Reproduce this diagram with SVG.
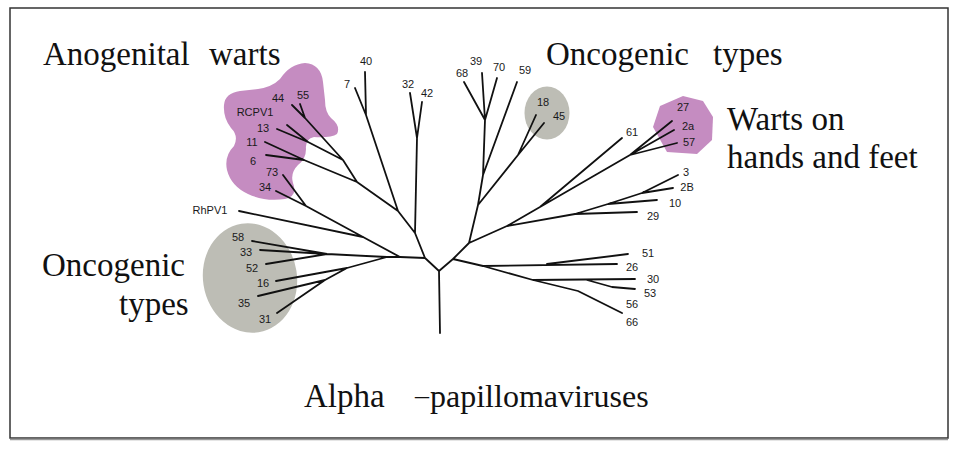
<svg xmlns="http://www.w3.org/2000/svg" width="960" height="450" viewBox="0 0 960 450">
<style>
.title{font-family:"Liberation Serif","Times New Roman",serif;font-size:33px;fill:#111}
.lbl{font-family:"Liberation Sans",Arial,sans-serif;font-size:11px;fill:#1a1a1a;text-anchor:middle}
.edge{fill:none;stroke:#111;stroke-width:1.8;stroke-linecap:round;stroke-linejoin:round}
.purple{fill:#c58cc1}
.grey{fill:#bdbdb5}
</style>
<rect x="0" y="0" width="960" height="450" fill="#fff"/>
<rect x="10" y="8" width="938" height="430" fill="#fff" stroke="#333" stroke-width="1.5"/>
<line x1="10" y1="439.5" x2="948" y2="439.5" stroke="#999" stroke-width="1.5"/>

<g id="cluster-anogenital">
<path class="purple" d="M224,105 Q225,93 240,91 L258,89 Q272,87 280,79 Q290,64 305,63 Q321,64 323,82 L325,100 Q325,112 331,118 Q341,126 337,134 Q331,138 314,137 Q305,139 306,149 Q306,159 298,165 Q290,173 293,183 Q298,196 285,199 Q265,202 248,194 Q231,186 227,170 Q224,156 234,146 Q239,136 231,128 Q223,118 224,105 Z"/>
</g>
<g id="cluster-oncogenic-left">
<ellipse class="grey" cx="250" cy="278" rx="47" ry="55" transform="rotate(-9 250 278)"/>
</g>
<g id="cluster-oncogenic-top">
<ellipse class="grey" cx="547" cy="113" rx="22.5" ry="26.5"/>
</g>
<g id="cluster-warts-hands">
<polygon class="purple" points="660,106 683,96 703,101 713,117 712,140 697,154 667,152 653,127"/>
</g>

<g id="connectors">
<path class="edge" d="M440,333 L439,271 M439,271 L425,258 M439,271 L453,259
M425,258 L415,233 L417,138 M417,138 L410,93 M417,138 L422,102
M415,233 L398,211 L366,115 L365,72 M366,115 L355,88
M398,211 L357,182 L343,160 L305,118 L292,105 M305,118 L300,104
M343,160 L308,142 L277,129 M308,142 L287,125
M357,182 L304,160 L265,142 M304,160 L266,155
M425,258 L400,257 L363,237 L306,206 L283,175 M306,206 L276,191
M363,237 L239,211
M400,257 L387,257 L327,254 L252,241 M327,254 L260,250 M327,254 L266,264
M387,257 L347,268 L276,281 M347,268 L325,280 L258,296 M325,280 L277,313
M453,259 L469,243 L478,205 L483,175 L485,120 L464,82 M485,120 L482,73 M485,120 L497,78
M483,175 L517,82
M478,205 L518,155 L536,115 M518,155 L544,123
M469,243 L507,226 L575,214 L637,212
M575,214 L608,204 L657,200 M608,204 L642,193 L673,188 M642,193 L678,175
M507,226 L540,207 L622,138
M540,207 L630,155 L672,121 M630,155 L674,130 M630,155 L677,143
M453,259 L483,266 L617,264 M547,264 L628,254
M483,266 L533,280 L635,279 M587,280 L612,287 L635,289
M533,280 L578,291 L622,313"/>
</g>

<g id="leaves">
<g id="n44"><text class="lbl" x="278" y="102">44</text></g>
<g id="n55"><text class="lbl" x="303" y="99">55</text></g>
<g id="nRCPV1"><text class="lbl" x="255" y="116">RCPV1</text></g>
<g id="n13"><text class="lbl" x="263" y="132">13</text></g>
<g id="n11"><text class="lbl" x="252" y="146">11</text></g>
<g id="n6"><text class="lbl" x="253" y="165">6</text></g>
<g id="n73"><text class="lbl" x="272" y="176">73</text></g>
<g id="n34"><text class="lbl" x="265" y="191">34</text></g>
<g id="nRhPV1"><text class="lbl" x="210" y="214">RhPV1</text></g>
<g id="n58"><text class="lbl" x="238" y="241">58</text></g>
<g id="n33"><text class="lbl" x="246" y="256">33</text></g>
<g id="n52"><text class="lbl" x="252" y="272">52</text></g>
<g id="n16"><text class="lbl" x="263" y="287">16</text></g>
<g id="n35"><text class="lbl" x="244" y="307">35</text></g>
<g id="n31"><text class="lbl" x="265" y="323">31</text></g>
<g id="n40"><text class="lbl" x="366" y="65">40</text></g>
<g id="n7"><text class="lbl" x="347" y="88">7</text></g>
<g id="n32"><text class="lbl" x="408" y="88">32</text></g>
<g id="n42"><text class="lbl" x="427" y="97">42</text></g>
<g id="n68"><text class="lbl" x="462" y="77">68</text></g>
<g id="n39"><text class="lbl" x="476" y="65">39</text></g>
<g id="n70"><text class="lbl" x="499" y="71">70</text></g>
<g id="n59"><text class="lbl" x="525" y="74">59</text></g>
<g id="n18"><text class="lbl" x="543" y="106">18</text></g>
<g id="n45"><text class="lbl" x="559" y="120">45</text></g>
<g id="n61"><text class="lbl" x="632" y="136">61</text></g>
<g id="n27"><text class="lbl" x="683" y="111">27</text></g>
<g id="n2a"><text class="lbl" x="688" y="130">2a</text></g>
<g id="n57"><text class="lbl" x="689" y="146">57</text></g>
<g id="n3"><text class="lbl" x="686" y="176">3</text></g>
<g id="n2B"><text class="lbl" x="687" y="191">2B</text></g>
<g id="n10"><text class="lbl" x="675" y="207">10</text></g>
<g id="n29"><text class="lbl" x="653" y="220">29</text></g>
<g id="n51"><text class="lbl" x="648" y="257">51</text></g>
<g id="n26"><text class="lbl" x="632" y="271">26</text></g>
<g id="n30"><text class="lbl" x="653" y="283">30</text></g>
<g id="n53"><text class="lbl" x="650" y="297">53</text></g>
<g id="n56"><text class="lbl" x="632" y="308">56</text></g>
<g id="n66"><text class="lbl" x="632" y="326">66</text></g>
</g>

<g id="titles">
<text class="title" y="65"><tspan x="43">Anogenital</tspan><tspan x="209">warts</tspan></text>
<text class="title" y="65"><tspan x="546">Oncogenic</tspan><tspan x="713">types</tspan></text>
<text class="title" x="727" y="130">Warts on</text>
<text class="title" x="727" y="168">hands and feet</text>
<text class="title" x="42" y="276">Oncogenic</text>
<text class="title" x="119" y="315">types</text>
<text class="title" y="407"><tspan x="304">Alpha</tspan><tspan x="415" y="404" style="font-size:28px">–</tspan><tspan x="430" y="407" style="font-size:32px">papillomaviruses</tspan></text>
</g>
</svg>
